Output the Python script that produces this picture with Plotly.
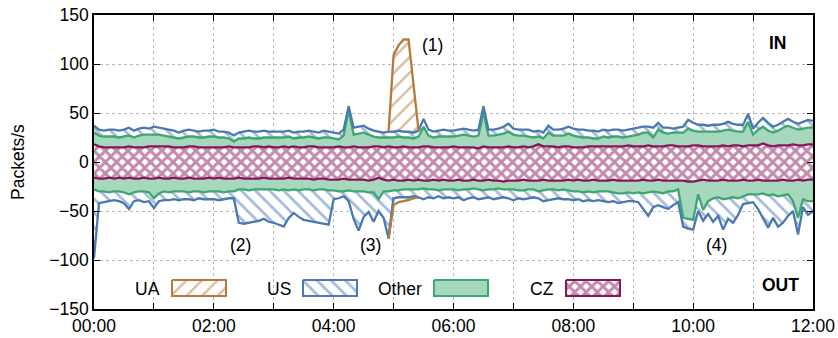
import numpy as np
import plotly.graph_objects as go

# ---------------- data (packets/s, 5-minute samples 00:00 .. 12:00) ----------------
tick_hours = list(range(13))
tick_labels = ["00:00", "", "02:00", "", "04:00", "", "06:00", "", "08:00", "", "10:00", "", "12:00"]
sample_minutes = 5

cz_in = [
    18,16,15,15,15,15,15,16,15,15,15,16,
    16,16,16,16,15,15,15,16,16,15,15,15,
    15,15,15,16,15,15,15,15,16,16,15,16,
    15,15,16,15,16,15,15,16,16,15,15,15,
    15,16,15,15,16,15,15,15,16,16,15,16,
    15,15,16,15,15,15,16,16,15,15,15,15,
    16,15,15,15,15,14,16,15,15,15,15,16,
    15,15,16,15,16,18,16,16,16,15,16,16,
    15,15,15,16,16,16,16,16,16,16,16,17,
    16,16,16,17,16,16,16,17,17,16,16,16,
    17,17,16,16,16,16,17,16,17,17,16,17,
    17,17,19,17,16,17,17,17,18,17,17,18,18]

other_in = [
    12,11,11,11,11,10,11,11,10,12,13,12,
    12,12,11,10,10,9,10,10,10,10,10,11,
    11,10,10,8,6,9,9,10,8,8,10,9,
    10,10,9,11,8,10,10,10,9,9,10,10,
    9,7,12,38,12,14,15,13,10,9,10,9,
    10,11,9,10,9,11,20,11,10,11,11,11,
    10,12,13,12,11,13,35,12,12,13,14,15,
    13,12,11,11,9,8,8,14,11,12,11,13,
    12,11,10,9,8,8,10,9,10,10,9,9,
    11,12,14,13,9,17,14,12,13,14,14,18,
    15,14,15,15,15,15,15,17,15,14,15,24,
    11,16,17,15,14,15,18,20,17,16,17,17,17]

us_in = [
    7,6,6,7,7,7,7,8,7,7,7,6,
    8,7,7,7,7,6,7,7,6,6,7,6,
    7,6,6,6,6,6,7,7,7,7,7,6,
    6,6,6,6,6,6,6,6,6,6,7,6,
    6,6,6,4,7,7,7,6,6,6,5,6,
    6,6,6,6,6,6,8,6,6,6,7,6,
    6,6,6,6,6,6,6,6,6,6,7,8,
    6,6,6,7,6,6,6,7,6,6,7,7,
    7,7,8,7,8,7,7,7,7,7,7,7,
    7,7,6,6,10,7,5,6,4,5,6,9,
    8,7,7,6,7,7,7,8,7,7,7,8,
    6,7,9,8,6,6,6,7,6,6,7,8,7]

ua_in = [0]*60 + [78, 87, 94, 94, 48] + [0]*80

cz_out = [
    -16,-17,-17,-16,-17,-16,-17,-16,-17,-17,-16,-17,
    -17,-16,-17,-17,-16,-17,-17,-16,-17,-17,-17,-16,
    -17,-16,-17,-17,-17,-16,-17,-17,-17,-17,-16,-17,
    -17,-17,-17,-16,-17,-17,-17,-17,-18,-17,-17,-18,
    -18,-18,-17,-18,-18,-18,-18,-19,-18,-16,-18,-19,
    -18,-19,-19,-18,-19,-18,-19,-19,-18,-19,-18,-19,
    -19,-18,-19,-19,-18,-19,-19,-18,-19,-19,-20,-19,
    -19,-19,-18,-19,-19,-19,-18,-19,-19,-19,-19,-18,
    -19,-18,-19,-19,-18,-19,-19,-19,-18,-19,-19,-19,
    -19,-19,-18,-19,-19,-18,-19,-19,-19,-19,-19,-20,
    -20,-19,-18,-19,-19,-19,-18,-19,-19,-19,-18,-19,
    -19,-18,-19,-19,-19,-19,-18,-19,-19,-18,-19,-18,-18]

other_out = [
    -12,-13,-13,-15,-13,-14,-14,-17,-14,-13,-14,-14,
    -20,-16,-13,-14,-14,-13,-13,-15,-13,-13,-14,-14,
    -13,-14,-14,-13,-13,-12,-11,-12,-11,-11,-12,-11,
    -11,-12,-11,-13,-11,-12,-11,-11,-11,-11,-11,-11,
    -11,-12,-13,-11,-12,-12,-12,-12,-13,-22,-12,-11,
    -11,-10,-9,-10,-9,-10,-8,-9,-10,-10,-10,-9,
    -9,-11,-9,-9,-9,-9,-10,-10,-9,-8,-8,-9,
    -9,-10,-11,-9,-9,-11,-11,-9,-9,-10,-9,-11,
    -11,-12,-12,-11,-13,-11,-11,-11,-13,-13,-13,-12,
    -13,-12,-14,-12,-11,-13,-13,-11,-11,-9,-38,-38,
    -39,-14,-31,-21,-18,-17,-20,-18,-17,-18,-17,-14,
    -14,-15,-13,-15,-14,-16,-16,-14,-21,-39,-19,-22,-22]

us_out = [
    -70,-12,-11,-9,-9,-10,-11,-15,-9,-9,-11,-9,
    -10,-8,-9,-8,-8,-9,-8,-7,-9,-7,-7,-8,
    -8,-9,-7,-7,-7,-34,-35,-33,-33,-32,-30,-33,
    -34,-35,-38,-28,-24,-27,-31,-32,-32,-34,-35,-35,
    -9,-7,-5,-11,-28,-40,-26,-20,-30,-12,-27,-48,
    -8,-7,-8,-8,-7,-8,-11,-8,-9,-6,-9,-8,
    -9,-7,-11,-9,-9,-10,-8,-8,-10,-10,-8,-9,
    -11,-8,-9,-9,-8,-7,-11,-11,-10,-8,-10,-9,
    -9,-8,-9,-9,-9,-9,-10,-11,-9,-10,-9,-9,
    -8,-10,-16,-24,-16,-13,-14,-18,-14,-13,-9,-10,
    -10,-17,-11,-13,-24,-19,-31,-21,-26,-17,-8,-9,
    -8,-15,-26,-33,-24,-31,-28,-22,-10,-17,-8,-14,-10]

ua_out = [0]*60 + [-7, -5, -4, -3, -2] + [0]*80

series_names = ["UA", "US", "Other", "CZ"]
annotations_text = ["(1)", "(2)", "(3)", "(4)"]

# ---------------- styles ----------------
C_UA = "#b47c3c"
C_US = "#4a78b0"
C_OT = "#3fa672"
C_OT_FILL = "#a5d8bc"
C_CZ = "#86185a"
FONT = "Liberation Sans, Arial, Helvetica, sans-serif"
FS = 17.5
LW = 2.3

PAT_UA = dict(shape="/", fgcolor=C_UA, bgcolor="white", size=11, solidity=0.22)
PAT_US = dict(shape="\\", fgcolor=C_US, bgcolor="white", size=10, solidity=0.27)
PAT_CZ = dict(shape="x", fgcolor=C_CZ, bgcolor="white", size=8, solidity=0.62)

t = np.arange(len(cz_in)) * sample_minutes / 60.0

fig = go.Figure()


def add_stack(cz, other, us, ua):
    l1 = np.array(cz, float)
    l2 = l1 + np.array(other, float)
    l3 = l2 + np.array(us, float)
    l4 = l3 + np.array(ua, float)
    fig.add_trace(go.Scatter(x=t, y=l1, mode="lines", fill="tozeroy",
                             line=dict(color=C_CZ, width=LW), fillpattern=PAT_CZ,
                             showlegend=False, hoverinfo="skip"))
    fig.add_trace(go.Scatter(x=t, y=l2, mode="lines", fill="tonexty",
                             fillcolor=C_OT_FILL, line=dict(color=C_OT, width=LW),
                             showlegend=False, hoverinfo="skip"))
    fig.add_trace(go.Scatter(x=t, y=l3, mode="lines", fill="tonexty",
                             line=dict(color=C_US, width=LW), fillpattern=PAT_US,
                             showlegend=False, hoverinfo="skip"))
    nz = np.nonzero(np.array(ua))[0]
    i0, i1 = max(nz[0] - 1, 0), min(nz[-1] + 1, len(t) - 1)
    seg = slice(i0, i1 + 1)
    px = np.concatenate([t[seg], t[seg][::-1]])
    py = np.concatenate([l4[seg], l3[seg][::-1]])
    fig.add_trace(go.Scatter(x=px, y=py, mode="lines", fill="toself",
                             line=dict(width=0, color=C_UA), fillpattern=PAT_UA,
                             showlegend=False, hoverinfo="skip"))
    fig.add_trace(go.Scatter(x=t[seg], y=l3[seg], mode="lines",
                             line=dict(color=C_US, width=LW),
                             showlegend=False, hoverinfo="skip"))
    fig.add_trace(go.Scatter(x=t[seg], y=l4[seg], mode="lines",
                             line=dict(color=C_UA, width=LW),
                             showlegend=False, hoverinfo="skip"))


add_stack(cz_in, other_in, us_in, ua_in)
add_stack(cz_out, other_out, us_out, ua_out)

# ---------------- custom legend (text, then swatch) on a pixel overlay axis ----------------
PL, PR, PT, PB = 94, 813, 15, 309
leg_swatch_left = [172, 303, 434, 566]
sw_w, sw_top, sw_bot = 54, 280, 296
sw_styles = [
    dict(line=C_UA, pattern=PAT_UA),
    dict(line=C_US, pattern=PAT_US),
    dict(line=C_OT, fill=C_OT_FILL),
    dict(line=C_CZ, pattern=PAT_CZ),
]
annotations = []
for name, x0, st in zip(series_names, leg_swatch_left, sw_styles):
    kw = dict(x=[x0, x0 + sw_w, x0 + sw_w, x0, x0], y=[sw_top, sw_top, sw_bot, sw_bot, sw_top],
              mode="lines", fill="toself", line=dict(color=st["line"], width=2),
              xaxis="x2", yaxis="y2", showlegend=False, hoverinfo="skip")
    if "pattern" in st:
        kw["fillpattern"] = st["pattern"]
    else:
        kw["fillcolor"] = st["fill"]
    fig.add_trace(go.Scatter(**kw))
    annotations.append(dict(x=x0 - 10, y=(sw_top + sw_bot) / 2 + 0.5, xref="x2", yref="y2",
                            text=name, showarrow=False, xanchor="right", yanchor="middle",
                            font=dict(family=FONT, size=FS, color="black")))

# event labels (data coordinates)
ev_pos = [(5.65, 119), (2.45, -85), (4.62, -85), (10.39, -85)]
for txt, (ex, ey) in zip(annotations_text, ev_pos):
    annotations.append(dict(x=ex, y=ey, xref="x", yref="y", text=txt, showarrow=False,
                            xanchor="center", yanchor="middle",
                            font=dict(family=FONT, size=FS, color="black")))
annotations.append(dict(x=11.42, y=121, xref="x", yref="y", text="<b>IN</b>", showarrow=False,
                        xanchor="center", yanchor="middle",
                        font=dict(family=FONT, size=FS, color="black")))
annotations.append(dict(x=11.46, y=-125, xref="x", yref="y", text="<b>OUT</b>", showarrow=False,
                        xanchor="center", yanchor="middle",
                        font=dict(family=FONT, size=FS, color="black")))
annotations.append(dict(x=(18 - PL) / (PR - PL), y=0.5, xref="paper", yref="paper",
                        text="Packets/s", textangle=-90, showarrow=False,
                        xanchor="center", yanchor="middle",
                        font=dict(family=FONT, size=FS, color="black")))

axis_common = dict(showline=True, linecolor="black", linewidth=1.5, mirror="ticks",
                   ticks="inside", ticklen=6, tickwidth=1.2, tickcolor="black",
                   showgrid=True, gridcolor="#b8b8b8", griddash="dot", gridwidth=1,
                   zeroline=False, automargin=False,
                   tickfont=dict(family=FONT, size=FS, color="black"))

fig.update_layout(
    width=838, height=338, autosize=False,
    margin=dict(l=PL, r=838 - PR, t=PT, b=338 - PB, pad=0),
    paper_bgcolor="white", plot_bgcolor="white",
    xaxis=dict(range=[0, 12], tickmode="array", tickvals=tick_hours, ticktext=tick_labels,
               **axis_common),
    yaxis=dict(range=[-150, 150], tickmode="array", tickvals=[-150, -100, -50, 0, 50, 100, 150],
               **axis_common),
    xaxis2=dict(range=[PL, PR], overlaying="x", visible=False, fixedrange=True),
    yaxis2=dict(range=[PB, PT], overlaying="y", visible=False, fixedrange=True),
    annotations=annotations,
    showlegend=False,
)

# page body has a default 8px margin; remove it so the figure sits at the window origin
fig.write_html("out.html", config={"displayModeBar": False},
               post_script="document.body.style.margin='0px';")
